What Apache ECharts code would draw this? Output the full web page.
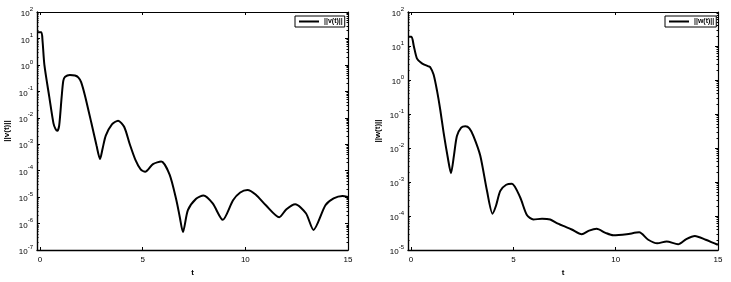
<!DOCTYPE html>
<html>
<head>
<meta charset="utf-8">
<script src="https://cdn.jsdelivr.net/npm/echarts@6/dist/echarts.min.js"></script>
<style>
html,body{margin:0;padding:0;background:#fff;}
#c{width:731px;height:282px;}
</style>
</head>
<body>
<div id="c"></div>
<script>
// ---- data ----
var tV = [-0.15,0.06,0.12,0.21,0.45,0.65,0.75,0.84,0.93,1.05,1.13,1.22,1.45,1.7,1.86,2.0,2.2,2.5,2.75,2.92,3.05,3.2,3.5,3.8,4.1,4.37,4.65,4.9,5.12,5.5,5.9,6.31,6.64,6.8,6.96,7.2,7.6,7.96,8.41,8.9,9.4,9.75,10.1,10.5,11.0,11.65,12.0,12.43,12.95,13.32,13.9,14.3,14.73,15.0];
var vVals = [17,17,8.0,1.0,0.06,6.3e-3,3.8e-3,3.2e-3,5.0e-3,0.06,0.25,0.355,0.417,0.398,0.339,0.224,0.063,6.3e-3,8.9e-4,2.75e-4,7.1e-4,2.1e-3,5.6e-3,7.8e-3,4.5e-3,1.0e-3,2.5e-4,1.12e-4,9.1e-5,1.78e-4,2.2e-4,7.1e-5,7.6e-6,1.86e-6,4.8e-7,3.2e-6,8.7e-6,1.15e-5,5.75e-6,1.38e-6,7.6e-6,1.5e-5,1.86e-5,1.26e-5,4.9e-6,1.74e-6,3.5e-6,5.4e-6,2.45e-6,5.75e-7,4.9e-6,8.9e-6,1.1e-5,1.02e-5];
var tW = [-0.15,0.02,0.13,0.29,0.53,0.85,0.93,1.1,1.27,1.43,1.59,1.8,1.95,2.1,2.24,2.45,2.65,2.85,3.05,3.38,3.71,3.98,4.15,4.36,4.65,4.93,5.33,5.66,5.98,6.4,6.8,7.1,7.44,7.85,8.34,8.7,9.07,9.5,9.88,10.54,11.15,11.59,12.03,12.49,13.05,13.45,13.87,14.4,14.93,15.0];
var wVals = [18.6,18.6,10.2,4.27,3.09,2.51,2.4,1.45,0.479,0.129,0.0282,5.0e-3,1.82e-3,6.3e-3,0.0224,0.0398,0.0437,0.038,0.0224,6.0e-3,5.5e-4,1.17e-4,2.0e-4,5.5e-4,8.3e-4,8.9e-4,3.55e-4,1.07e-4,7.9e-5,8.3e-5,7.9e-5,6.3e-5,5.1e-5,4.0e-5,2.9e-5,3.7e-5,4.2e-5,3.2e-5,2.7e-5,2.9e-5,3.3e-5,2.0e-5,1.58e-5,1.78e-5,1.48e-5,2.1e-5,2.6e-5,2.0e-5,1.48e-5,1.45e-5];
var xTicks = [0, 5, 10, 15];
var nameV = '||v(t)||', nameW = '||w(t)||', nameT = 't';

// ---- chart ----
var FONT = 'Liberation Sans, Arial, sans-serif';
function zip(a, b){ return a.map(function(t,i){ return [t, b[i]]; }); }
function supFmt(v){ var e = Math.round(Math.log10(v)); return '{b|10}{s|' + e + '}'; }
var rich = {
  b: {fontSize: 8, fontFamily: FONT, color: '#000', lineHeight: 12, verticalAlign: 'bottom'},
  s: {fontSize: 6, fontFamily: FONT, color: '#000', lineHeight: 12, verticalAlign: 'top'}
};

function xAxesFor(gi){
  return [{
    type: 'value', gridIndex: gi, min: -0.15, max: 15, position: 'bottom',
    name: nameT, nameLocation: 'middle', nameGap: 19,
    nameTextStyle: {fontSize: 8, fontFamily: FONT, color: '#000', fontWeight: 'bold'},
    axisLine: {show: true, onZero: false, lineStyle: {color: '#000', width: 1.4}},
    axisTick: {show: true, inside: true, length: 3, customValues: xTicks, lineStyle: {color:'#000'}},
    axisLabel: {show: true, customValues: xTicks, fontSize: 8, fontFamily: FONT, color: '#000', margin: 6},
    splitLine: {show: false}
  },{
    type: 'value', gridIndex: gi, min: -0.15, max: 15, position: 'top',
    axisLine: {show: true, onZero: false, lineStyle: {color: '#000', width: 1.2}},
    axisTick: {show: true, inside: true, length: 3, customValues: xTicks, lineStyle: {color:'#000'}},
    axisLabel: {show: false},
    splitLine: {show: false}
  }];
}
function yAxesFor(gi, mn, mx, nm){
  return [{
    type: 'log', logBase: 10, gridIndex: gi, min: mn, max: mx, position: 'left',
    name: nm, nameLocation: 'middle', nameGap: 26, nameRotate: 90,
    nameTextStyle: {fontSize: 8, fontFamily: FONT, color: '#000', fontWeight: 'bold'},
    axisLine: {show: true, onZero: false, lineStyle: {color: '#000', width: 1.4}},
    axisTick: {show: true, inside: true, length: 3, lineStyle: {color:'#000'}},
    minorTick: {show: true, splitNumber: 9, length: 1.5, lineStyle: {color:'#000'}},
    axisLabel: {show: true, formatter: supFmt, rich: rich, margin: 4},
    splitLine: {show: false}
  },{
    type: 'log', logBase: 10, gridIndex: gi, min: mn, max: mx, position: 'right',
    axisLine: {show: true, onZero: false, lineStyle: {color: '#000', width: 1.2}},
    axisTick: {show: true, inside: true, length: 3, lineStyle: {color:'#000'}},
    minorTick: {show: true, splitNumber: 9, length: 1.5, lineStyle: {color:'#000'}},
    axisLabel: {show: false},
    splitLine: {show: false}
  }];
}
function legendFor(nm, left){
  return {
    data: [{name: nm, icon: 'rect'}], left: left, top: 16, orient: 'horizontal',
    borderColor: '#000', borderWidth: 1, padding: [2, 2, 2, 4],
    itemWidth: 20, itemHeight: 2, itemGap: 2,
    textStyle: {fontSize: 7, fontFamily: FONT, color: '#000', fontWeight: 'bold'},
    backgroundColor: '#fff'
  };
}

var chart = echarts.init(document.getElementById('c'), null, {renderer: 'canvas'});
chart.setOption({
  animation: false,
  backgroundColor: '#fff',
  grid: [
    {left: 37, top: 12, width: 311, height: 246},
    {left: 408, top: 12, width: 310, height: 246}
  ],
  legend: [legendFor(nameV, 295), legendFor(nameW, 665)],
  xAxis: xAxesFor(0).concat(xAxesFor(1)),
  yAxis: yAxesFor(0, 1e-7, 1e2, nameV).concat(yAxesFor(1, 1e-5, 1e2, nameW)),
  series: [
    {name: nameV, type: 'line', xAxisIndex: 0, yAxisIndex: 0, data: zip(tV, vVals),
     smooth: 0.25, symbol: 'none', lineStyle: {color: '#000', width: 2}, itemStyle: {color: '#000'}},
    {name: nameW, type: 'line', xAxisIndex: 2, yAxisIndex: 2, data: zip(tW, wVals),
     smooth: 0.25, symbol: 'none', lineStyle: {color: '#000', width: 2}, itemStyle: {color: '#000'}}
  ]
});
</script>
</body>
</html>
